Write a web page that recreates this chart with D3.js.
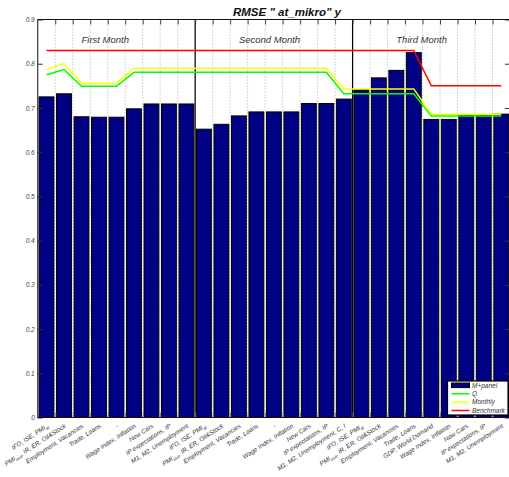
<!DOCTYPE html>
<html>
<head>
<meta charset="utf-8">
<script src="https://cdn.jsdelivr.net/npm/d3@7"></script>
<style>
  html, body { margin: 0; padding: 0; background: #fff; }
  svg { display: block; font-family: "Liberation Sans", Arial, Helvetica, sans-serif; }
</style>
</head>
<body>
<div id="chart"></div>
<script>
// ---------- data ----------
const categories = [
  "IFO, ISE, PMI_at", "PMI_usa, IR, ER, Oil&Stock", "Employment, Vacancies", "Trade, Loans", "-",
  "Wage Index, Inflation", "New Cars", "IP expectations, IP", "M1, M2, Unemployment",
  "IFO, ISE, PMI_at", "PMI_usa, IR, ER, Oil&Stock", "Employment, Vacancies", "Trade, Loans", "-",
  "Wage Index, Inflation", "New Cars", "IP expectations, IP", "M1, M2, Unemployment, C, I",
  "IFO, ISE, PMI_at", "PMI_usa, IR, ER, Oil&Stock", "Employment, Vacancies", "Trade, Loans", "GDP, World Demand",
  "Wage Index, Inflation", "New Cars", "IP expectations, IP", "M1, M2, Unemployment"
];
const mPanel = [
  0.725, 0.732, 0.680, 0.679, 0.679, 0.698, 0.709, 0.709, 0.709,
  0.652, 0.663, 0.682, 0.691, 0.691, 0.691, 0.710, 0.710, 0.720,
  0.741, 0.768, 0.785, 0.825, 0.674, 0.674, 0.684, 0.684, 0.686
];
const qValues = [
  0.775, 0.787, 0.749, 0.749, 0.749, 0.7805, 0.7805, 0.7805, 0.7805,
  0.7805, 0.7805, 0.7805, 0.7805, 0.7805, 0.7805, 0.7805, 0.7805, 0.732,
  0.732, 0.732, 0.732, 0.732, 0.682, 0.682, 0.682, 0.682, 0.682
];
const monthlyValues = [
  0.787, 0.801, 0.756, 0.756, 0.756, 0.790, 0.790, 0.790, 0.790,
  0.790, 0.790, 0.790, 0.790, 0.790, 0.790, 0.790, 0.790, 0.743,
  0.743, 0.743, 0.743, 0.743, 0.686, 0.686, 0.686, 0.686, 0.686
];
const benchmarkValues = [
  0.83, 0.83, 0.83, 0.83, 0.83, 0.83, 0.83, 0.83, 0.83,
  0.83, 0.83, 0.83, 0.83, 0.83, 0.83, 0.83, 0.83, 0.83,
  0.83, 0.83, 0.83, 0.83, 0.75, 0.75, 0.75, 0.75, 0.75
];
const monthNames = ["First Month", "Second Month", "Third Month"];
const monthStarts = [0, 9, 18];
const yTicks = [0, 0.1, 0.2, 0.3, 0.4, 0.5, 0.6, 0.7, 0.8, 0.9];
const legendNames = ["M+panel", "Q", "Monthly", "Benchmark"];
const titleText = 'RMSE " at_mikro" y';

// ---------- layout ----------
const W = 509, H = 477;
const X0 = 37.75, X1 = 510, YT = 19.5, YB = 417.5;
const n = categories.length;

const svg = d3.select("#chart").append("svg")
  .attr("width", W).attr("height", H).attr("viewBox", `0 0 ${W} ${H}`);
svg.append("rect").attr("width", W).attr("height", H).attr("fill", "#fff");

const x = d3.scaleLinear().domain([0, n]).range([X0, X1]);
const y = d3.scaleLinear().domain([0, 0.9]).range([YB, YT]);
const xc = i => x(i + 0.5);

// vertical dotted grid
svg.append("g").selectAll("line").data(d3.range(1, n)).join("line")
  .attr("x1", d => x(d)).attr("x2", d => x(d))
  .attr("y1", YT).attr("y2", YB)
  .attr("stroke", "#9a9a9a").attr("stroke-width", 0.8)
  .attr("stroke-dasharray", "1,2");

// bars
const bw = 0.85;
svg.append("g").selectAll("rect").data(mPanel).join("rect")
  .attr("x", (d, i) => x(i + (1 - bw) / 2))
  .attr("width", x(bw) - x(0))
  .attr("y", d => y(d))
  .attr("height", d => y(0) - y(d))
  .attr("fill", "#000084")
  .attr("stroke", "#000").attr("stroke-width", 1);

// month separators
svg.append("g").selectAll("line").data(monthStarts.slice(1)).join("line")
  .attr("x1", d => x(d)).attr("x2", d => x(d))
  .attr("y1", YT).attr("y2", YB)
  .attr("stroke", "#000").attr("stroke-width", 1.2);

// series lines
const line = d3.line().x((d, i) => xc(i)).y(d => y(d));
const seriesDefs = [
  { vals: qValues, color: "#00ff00" },
  { vals: monthlyValues, color: "#ffff00" },
  { vals: benchmarkValues, color: "#ff0000" }
];
svg.append("g").selectAll("path").data(seriesDefs).join("path")
  .attr("d", d => line(d.vals))
  .attr("fill", "none").attr("stroke", d => d.color).attr("stroke-width", 1.5);

// axes
const yAxisL = d3.axisLeft(y).tickValues(yTicks).tickSizeInner(-5).tickSizeOuter(0)
  .tickPadding(3).tickFormat(d => d === 0 ? "0" : d.toFixed(1));
const gL = svg.append("g").attr("transform", `translate(${X0},0)`).call(yAxisL);
gL.select(".domain").remove();
gL.selectAll("line").attr("stroke", "#333");
gL.selectAll("text").attr("font-size", 6.5).attr("font-style", "italic").attr("fill", "#444");

const yAxisR = d3.axisRight(y).tickValues(yTicks).tickSizeInner(-5).tickSizeOuter(0).tickFormat("");
const gR = svg.append("g").attr("transform", `translate(${X1},0)`).call(yAxisR);
gR.select(".domain").remove();
gR.selectAll("line").attr("stroke", "#333");

const xAxisT = d3.axisTop(x).tickValues(d3.range(1, n + 1)).tickSizeInner(-5).tickSizeOuter(0).tickFormat("");
const gT = svg.append("g").attr("transform", `translate(0,${YT})`).call(xAxisT);
gT.select(".domain").remove();
gT.selectAll("line").attr("stroke", "#444");

const xAxisB = d3.axisBottom(x).tickValues(d3.range(1, n + 1)).tickSizeInner(-5).tickSizeOuter(0).tickFormat("");
const gB = svg.append("g").attr("transform", `translate(0,${YB})`).call(xAxisB);
gB.select(".domain").remove();
gB.selectAll("line").attr("stroke", "#777");

// frame
svg.append("rect").attr("x", X0).attr("y", YT).attr("width", X1 - X0).attr("height", YB - YT)
  .attr("fill", "none").attr("stroke", "#111").attr("stroke-width", 1);

// x labels (rotated, with subscripts)
const lab = svg.append("g").selectAll("text").data(categories).join("text")
  .attr("transform", (d, i) => `translate(${xc(i) + 2.5},${YB + 9.5}) rotate(-33)`)
  .attr("text-anchor", "end")
  .attr("font-size", 6.3)
  .attr("font-style", "italic")
  .attr("fill", "#333");
lab.each(function (d) {
  const t = d3.select(this);
  const parts = d.split(/_(\w+)/);
  parts.forEach((p, k) => {
    if (p === "") return;
    const ts = t.append("tspan").text(p);
    if (k % 2 === 1) {
      ts.attr("font-size", 4.4).attr("dy", 1.5);
    } else if (k > 0) {
      ts.attr("dy", -1.5);
    }
  });
});

// month labels
svg.append("g").selectAll("text").data(monthNames).join("text")
  .attr("x", (d, i) => xc(monthStarts[i] + 2))
  .attr("y", 43)
  .attr("font-size", 9.5).attr("font-style", "italic").attr("fill", "#333")
  .text(d => d);

// title
svg.append("text").attr("x", 287).attr("y", 15.5)
  .attr("text-anchor", "middle").attr("font-size", 11.5)
  .attr("font-weight", "bold").attr("font-style", "italic").attr("fill", "#111")
  .text(titleText);

// legend
const lg = svg.append("g");
lg.append("rect").attr("x", 447.5).attr("y", 381).attr("width", 60.5).attr("height", 34)
  .attr("fill", "#fff").attr("stroke", "#000").attr("stroke-width", 1.2);
const legendColors = [null, "#00ff00", "#ffff00", "#ff0000"];
const legendY = [385.3, 393.7, 402.1, 410.5];
legendNames.forEach((name, i) => {
  if (i === 0) {
    lg.append("rect").attr("x", 451.5).attr("y", legendY[i] - 2.3).attr("width", 18).attr("height", 4.6)
      .attr("fill", "#000084").attr("stroke", "#000").attr("stroke-width", 1);
  } else {
    lg.append("line").attr("x1", 451.5).attr("x2", 469.5)
      .attr("y1", legendY[i]).attr("y2", legendY[i])
      .attr("stroke", legendColors[i]).attr("stroke-width", 1.5);
  }
  lg.append("text").attr("x", 472).attr("y", legendY[i]).attr("dy", "0.35em")
    .attr("font-size", 6.5).attr("font-style", "italic").attr("fill", "#333").text(name);
});
</script>
</body>
</html>
